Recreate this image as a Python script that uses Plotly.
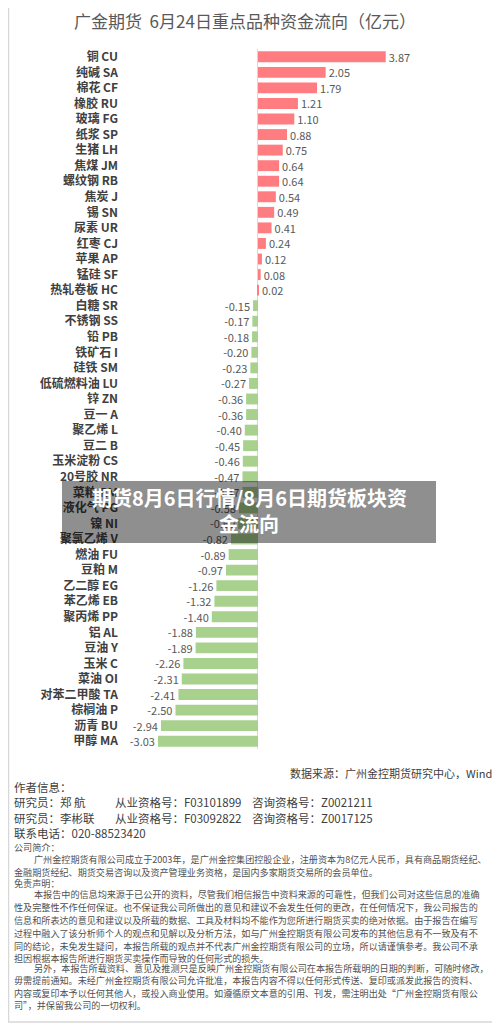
import plotly.graph_objects as go

categories = ["铜 CU", "纯碱 SA", "棉花 CF", "橡胶 RU", "玻璃 FG", "纸浆 SP", "生猪 LH", "焦煤 JM",
              "螺纹钢 RB", "焦炭 J", "锡 SN", "尿素 UR", "红枣 CJ", "苹果 AP", "锰硅 SF", "热轧卷板 HC",
              "白糖 SR", "不锈钢 SS", "铅 PB", "铁矿石 I", "硅铁 SM", "低硫燃料油 LU", "锌 ZN", "豆一 A",
              "聚乙烯 L", "豆二 B", "玉米淀粉 CS", "20号胶 NR", "菜粕 RM", "液化气 PG", "镍 NI", "聚氯乙烯 V",
              "燃油 FU", "豆粕 M", "乙二醇 EG", "苯乙烯 EB", "聚丙烯 PP", "铝 AL", "豆油 Y", "玉米 C",
              "菜油 OI", "对苯二甲酸 TA", "棕榈油 P", "沥青 BU", "甲醇 MA"]
values = [3.87, 2.05, 1.79, 1.21, 1.10, 0.88, 0.75, 0.64, 0.64, 0.54, 0.49, 0.41, 0.24, 0.12, 0.08, 0.02,
          -0.15, -0.17, -0.18, -0.20, -0.23, -0.27, -0.36, -0.36, -0.40, -0.45, -0.46, -0.47, -0.47, -0.58,
          -0.60, -0.82, -0.89, -0.97, -1.26, -1.32, -1.40, -1.88, -1.89, -2.26, -2.31, -2.41, -2.50, -2.94,
          -3.03]

title_text = "广金期货  6月24日重点品种资金流向（亿元）"
source_text = "数据来源：广州金控期货研究中心，Wind"
author_lines = [
    ("作者信息：", None, None),
    ("研究员：郑 航", "从业资格号：F03101899", "咨询资格号：Z0021211"),
    ("研究员：李彬联", "从业资格号：F03092822", "咨询资格号：Z0017125"),
    ("联系电话：020-88523420", None, None),
]
para_lines = [
    (12, "公司简介："),
    (32, "广州金控期货有限公司成立于2003年，是广州金控集团控股企业，注册资本为8亿元人民币，具有商品期货经纪、"),
    (12, "金融期货经纪、期货交易咨询以及资产管理业务资格，是国内多家期货交易所的会员单位。"),
    (12, "免责声明："),
    (32, "本报告中的信息均来源于已公开的资料，尽管我们相信报告中资料来源的可靠性，但我们公司对这些信息的准确"),
    (12, "性及完整性不作任何保证。也不保证我公司所做出的意见和建议不会发生任何的更改，在任何情况下，我公司报告的"),
    (12, "信息和所表达的意见和建议以及所载的数据、工具及材料均不能作为您所进行期货买卖的绝对依据。由于报告在编写"),
    (12, "过程中融入了该分析师个人的观点和见解以及分析方法，如与广州金控期货有限公司发布的其他信息有不一致及有不"),
    (12, "同的结论，未免发生疑问，本报告所载的观点并不代表广州金控期货有限公司的立场，所以请谨慎参考。我公司不承"),
    (12, "担因根据本报告所进行期货买卖操作而导致的任何形式的损失。"),
    (32, "另外，本报告所载资料、意见及推测只是反映广州金控期货有限公司在本报告所载明的日期的判断，可随时修改，"),
    (12, "毋需提前通知。未经广州金控期货有限公司允许批准，本报告内容不得以任何形式传送、复印或派发此报告的资料、"),
    (12, "内容或复印本予以任何其他人，或投入商业使用。如遵循原文本意的引用、刊发，需注明出处“广州金控期货有限公"),
    (12, "司”，并保留我公司的一切权利。"),
]
para_y = [847, 859, 872, 883, 894, 907, 920, 933, 946, 958, 968, 980, 993, 1005]
overlay_lines = ["期货8月6日行情/8月6日期货板块资", "金流向"]

# the page body has an 8px margin: figure covers page pixels 8..500
OFF = 8
W, H = 500 - OFF, 1025 - OFF
L, R, T, B = 122 - OFF, 40, 49 - OFF, 276
PW, PH = W - L - R, H - T - B

def px(x):
    return (x - OFF - L) / PW

def py(y):
    return (H - B - (y - OFF)) / PH

FONT = "Noto Sans CJK SC"
colors = ["#FF7C80" if v >= 0 else "#A9D18E" for v in values]

fig = go.Figure(go.Bar(
    x=values, y=categories, orientation="h",
    marker=dict(color=colors, line=dict(width=0)),
    text=[f"{v:.2f}" for v in values], textposition="outside", constraintext="none",
    textfont=dict(family=FONT, size=11, color="#595959"),
    cliponaxis=False, hoverinfo="skip",
))

fig.update_layout(
    width=W, height=H,
    margin=dict(l=L, r=R, t=T, b=B, autoexpand=False),
    paper_bgcolor="white", plot_bgcolor="white",
    bargap=0.3, showlegend=False,
    xaxis=dict(range=[-4.12, 6.12], showgrid=False, showticklabels=False, zeroline=True,
               zerolinecolor="#D9D9D9", zerolinewidth=1, automargin=False, fixedrange=True),
    yaxis=dict(autorange="reversed", showgrid=False, zeroline=False, automargin=False,
               tickfont=dict(family=FONT, size=12, color="#404040", weight="bold"),
               ticks="", ticklabelstandoff=3, fixedrange=True),
)

ann = []
ann.append(dict(text=title_text, x=px(245), y=py(20), xanchor="center", yanchor="middle",
                font=dict(family=FONT, size=17, color="#595959")))
ann.append(dict(text=source_text, x=px(494), y=py(773), xanchor="right", yanchor="middle",
                font=dict(family=FONT, size=11, color="#404040")))
ay = [787, 802, 818, 833]
for (a, b, c), yy in zip(author_lines, ay):
    ann.append(dict(text=a, x=px(12), y=py(yy), xanchor="left", yanchor="middle",
                    font=dict(family=FONT, size=11.5, color="#404040")))
    if b:
        ann.append(dict(text=b, x=px(113), y=py(yy), xanchor="left", yanchor="middle",
                        font=dict(family=FONT, size=11.5, color="#404040")))
    if c:
        ann.append(dict(text=c, x=px(250), y=py(yy), xanchor="left", yanchor="middle",
                        font=dict(family=FONT, size=11.5, color="#404040")))
for (xx, t), yy in zip(para_lines, para_y):
    ann.append(dict(text=t, x=px(xx), y=py(yy), xanchor="left", yanchor="middle",
                    font=dict(family=FONT, size=9.1, color="#505050")))
for t, yy in zip(overlay_lines, [497, 523]):
    ann.append(dict(text=t, x=px(249), y=py(yy), xanchor="center", yanchor="middle",
                    font=dict(family=FONT, size=20, color="white", weight="bold")))
for a in ann:
    a.update(xref="paper", yref="paper", showarrow=False)
fig.update_layout(annotations=ann)

fig.add_shape(type="rect", xref="paper", yref="paper", x0=px(62), x1=px(436), y0=py(481), y1=py(543),
              fillcolor="rgba(0,0,0,0.44)", line=dict(width=0), layer="above")
fig.add_shape(type="rect", xref="paper", yref="paper", x0=px(8.5), x1=px(497), y0=py(1), y1=py(1022),
              fillcolor="rgba(0,0,0,0)", line=dict(color="#D8D8D8", width=1.5), layer="above")

fig.write_html("out.html")
